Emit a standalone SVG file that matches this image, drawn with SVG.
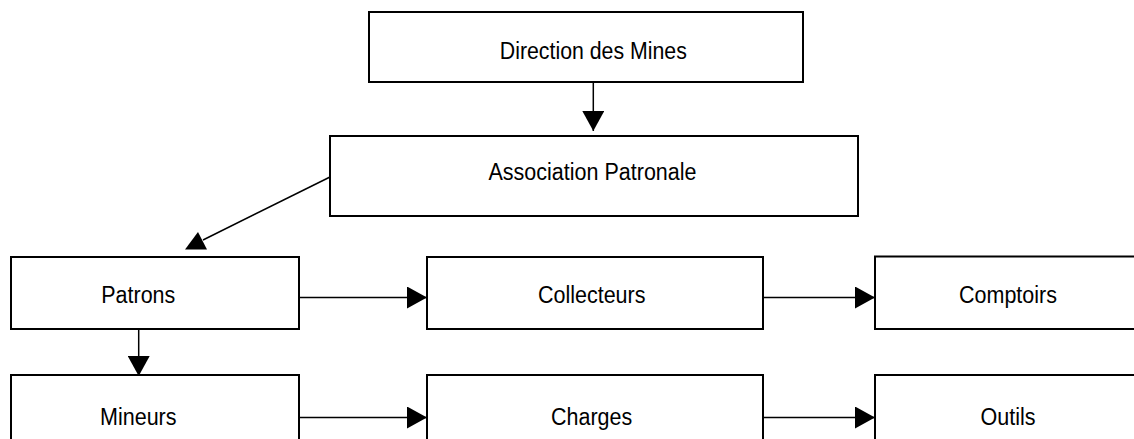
<svg xmlns="http://www.w3.org/2000/svg" width="1134" height="439" viewBox="0 0 1134 439">
<style>
.box{fill:#fff;stroke:#000;stroke-width:2}
.lbl{font-family:"Liberation Sans",Arial,sans-serif;font-size:23px;fill:#000;text-anchor:middle}
.ln{stroke:#000;stroke-width:1.5;fill:none}
</style>
<defs>
<marker id="ah" markerUnits="userSpaceOnUse" markerWidth="20" markerHeight="22" refX="20" refY="11" orient="auto" viewBox="0 0 20 22">
<path d="M0,0 L20,11 L0,22 Z" fill="#000"/>
</marker>
</defs>
<rect width="1134" height="439" fill="#fff"/>
<g id="direction"><rect class="box" x="369" y="12" width="434" height="70"/><text class="lbl" x="593.3" y="59.3" textLength="187" lengthAdjust="spacingAndGlyphs">Direction des Mines</text></g>
<g id="association"><rect class="box" x="330" y="136" width="528" height="80"/><text class="lbl" x="592.5" y="180" textLength="208" lengthAdjust="spacingAndGlyphs">Association Patronale</text></g>
<g id="patrons"><rect class="box" x="11" y="257" width="288" height="72"/><text class="lbl" x="138.3" y="302.7" textLength="74" lengthAdjust="spacingAndGlyphs">Patrons</text></g>
<g id="collecteurs"><rect class="box" x="427" y="257" width="336" height="72"/><text class="lbl" x="591.7" y="302.7" textLength="107.5" lengthAdjust="spacingAndGlyphs">Collecteurs</text></g>
<g id="comptoirs"><rect class="box" x="875" y="256.5" width="275" height="72.5"/><text class="lbl" x="1008" y="302.7" textLength="98" lengthAdjust="spacingAndGlyphs">Comptoirs</text></g>
<g id="mineurs"><rect class="box" x="11" y="375" width="288" height="72"/><text class="lbl" x="138.3" y="425" textLength="76.5" lengthAdjust="spacingAndGlyphs">Mineurs</text></g>
<g id="charges"><rect class="box" x="427" y="375" width="336" height="72"/><text class="lbl" x="591.6" y="425" textLength="81.2" lengthAdjust="spacingAndGlyphs">Charges</text></g>
<g id="outils"><rect class="box" x="875" y="375" width="275" height="72"/><text class="lbl" x="1008" y="425" textLength="55" lengthAdjust="spacingAndGlyphs">Outils</text></g>
<g id="connectors">
<line class="ln" x1="593.3" y1="83" x2="593.3" y2="131" marker-end="url(#ah)"/>
<line class="ln" x1="330" y1="177" x2="203" y2="240"/>
<polygon points="185,249.5 207,249.5 198,232" fill="#000"/>
<line class="ln" x1="138.7" y1="330" x2="138.7" y2="376" marker-end="url(#ah)"/>
<line class="ln" x1="300" y1="297.5" x2="427" y2="297.5" marker-end="url(#ah)"/>
<line class="ln" x1="764" y1="297.5" x2="875" y2="297.5" marker-end="url(#ah)"/>
<line class="ln" x1="300" y1="417.5" x2="427" y2="417.5" marker-end="url(#ah)"/>
<line class="ln" x1="764" y1="417.5" x2="875" y2="417.5" marker-end="url(#ah)"/>
</g>
</svg>
